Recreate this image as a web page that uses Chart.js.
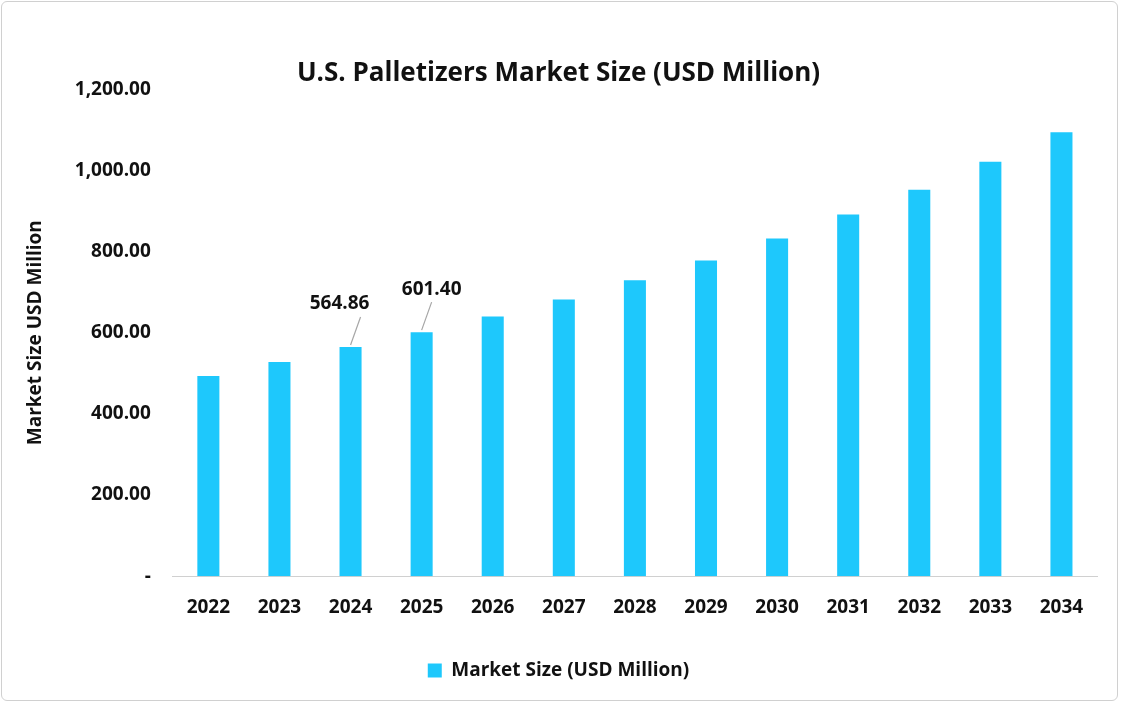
<!DOCTYPE html>
<html><head><meta charset="utf-8">
<script src="https://cdn.jsdelivr.net/npm/chart.js@4"></script>
<style>
html,body{margin:0;padding:0;background:#fff;}
#wrap{position:absolute;left:1px;top:1px;width:1117px;height:700px;border:1px solid #d0d0d0;border-radius:6px;box-sizing:border-box;}
canvas{display:block;}
</style></head><body>
<div id="wrap"><canvas id="c"></canvas></div>
<script>
const categories=['2022','2023','2024','2025','2026','2027','2028','2029','2030','2031','2032','2033','2034'];
const values=[493,528,564.86,601.40,640,682,729,778,832,891,952,1021,1094];
const labelled={2:'564.86',3:'601.40'};
const yTicks=[0,200,400,600,800,1000,1200];
const font="'Open Sans', 'Noto Sans', sans-serif";
const leader={id:'leader',afterDatasetsDraw(chart){
  const ctx=chart.ctx, meta=chart.getDatasetMeta(0);
  ctx.save();
  ctx.font="bold 19px "+font;ctx.fillStyle='#111';ctx.textAlign='center';ctx.textBaseline='middle';
  ctx.strokeStyle='#a6a6a6';ctx.lineWidth=1.2;
  for(const k in labelled){
    const b=meta.data[k];
    ctx.beginPath();ctx.moveTo(b.x,b.y-2);ctx.lineTo(b.x+10,b.y-30);ctx.stroke();
    ctx.fillText(labelled[k],b.x-11+ (k==3?21:0),b.y-43);
  }
  ctx.restore();
}};
new Chart(document.getElementById('c'),{
  type:'bar',
  data:{labels:categories,datasets:[{label:'Market Size (USD Million)',data:values,backgroundColor:'#1ec8fc',barPercentage:0.62,categoryPercentage:0.5}]},
  options:{responsive:true,maintainAspectRatio:false,animation:false,
    layout:{padding:{left:18,right:20,top:10,bottom:10}},
    plugins:{
      title:{display:true,text:'U.S. Palletizers Market Size (USD Million)',font:{family:font,size:26,weight:'bold'},color:'#111',padding:{top:46,bottom:0}},
      legend:{position:'bottom',labels:{boxWidth:14,boxHeight:14,font:{family:font,size:19,weight:'bold'},color:'#111',padding:22}},
      tooltip:{enabled:false}
    },
    scales:{
      x:{grid:{display:false,drawTicks:false},border:{color:'#d0d0d0'},ticks:{font:{family:font,size:19,weight:'bold'},color:'#111',padding:20}},
      y:{min:0,max:1200,afterBuildTicks(s){s.ticks=yTicks.map(v=>({value:v}));},
        grid:{display:false},border:{display:false},
        title:{display:true,text:'Market Size USD Million',font:{family:font,size:19,weight:'bold'},color:'#111',padding:{bottom:14}},
        ticks:{font:{family:font,size:19,weight:'bold'},color:'#111',padding:14,
          callback:v=>v===0?'-':v.toLocaleString('en-US',{minimumFractionDigits:2,maximumFractionDigits:2})}}
    }},
  plugins:[leader]
});
</script></body></html>
